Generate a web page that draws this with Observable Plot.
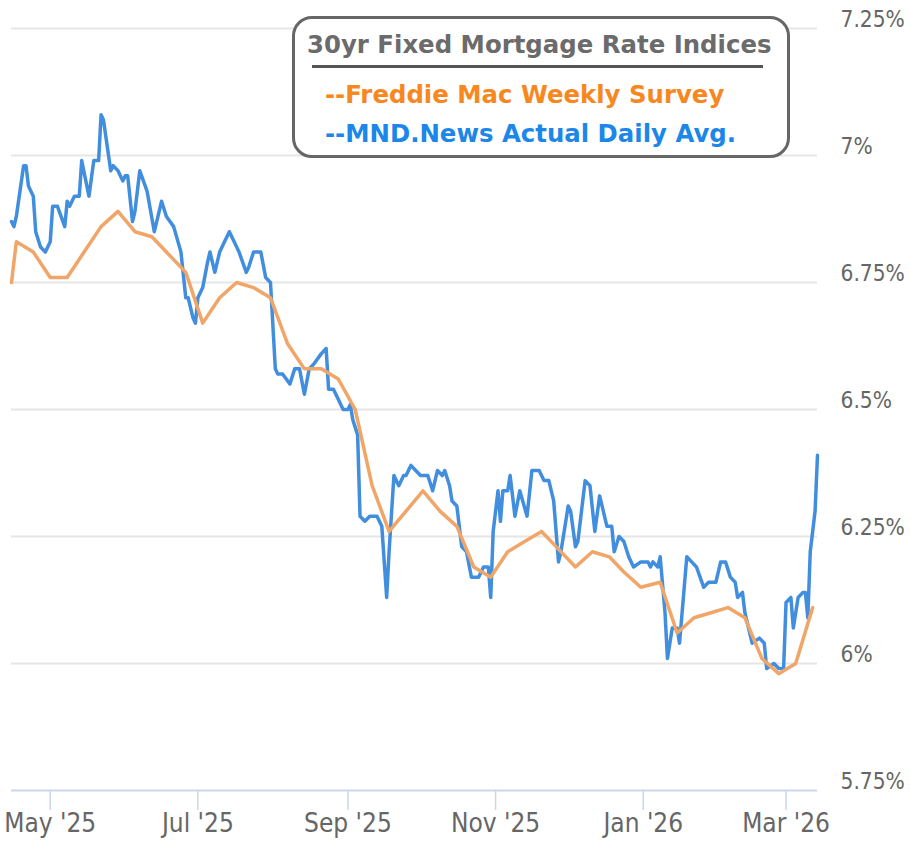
<!DOCTYPE html>
<html>
<head>
<meta charset="utf-8">
<script src="https://cdn.jsdelivr.net/npm/d3@7"></script>
<script src="https://cdn.jsdelivr.net/npm/@observablehq/plot@0.6"></script>
<style>
  html, body { margin: 0; padding: 0; background: #fff; }
  #wrap { position: relative; width: 910px; height: 844px; overflow: hidden; }
  #legend { position: absolute; left: 292px; top: 16px; width: 498px; height: 142px; box-sizing: border-box;
    border: 3px solid #666; border-radius: 20px; background: #fff; }
  .lg { position: absolute; font-family: "DejaVu Sans", sans-serif; font-weight: bold; font-size: 24.4px;
    line-height: 24px; white-space: nowrap; }
  #lgTitle { left: 12px; top: 14px; color: #6b6b6b; }
  #lgRule { position: absolute; left: 17px; top: 46px; width: 451px; height: 2.5px; background: #555; }
  #lgFm { left: 30px; top: 64px; color: #f7871f; }
  #lgMnd { left: 30px; top: 103px; color: #1c87e8; }
</style>
</head>
<body>
<div id="wrap">
  <div id="chart"></div>
  <div id="legend">
    <div class="lg" id="lgTitle">30yr Fixed Mortgage Rate Indices</div>
    <div id="lgRule"></div>
    <div class="lg" id="lgFm">--Freddie Mac Weekly Survey</div>
    <div class="lg" id="lgMnd">--MND.News Actual Daily Avg.</div>
  </div>
</div>
<script>
// Freddie Mac weekly survey
const fmDates = ["2025-04-15","2025-04-17","2025-04-24","2025-05-01","2025-05-08","2025-05-15","2025-05-22","2025-05-29",
  "2025-06-05","2025-06-12","2025-06-18","2025-06-26","2025-07-03","2025-07-10","2025-07-17","2025-07-24","2025-07-31",
  "2025-08-07","2025-08-14","2025-08-21","2025-08-28","2025-09-04","2025-09-11","2025-09-18","2025-09-25",
  "2025-10-02","2025-10-09","2025-10-16","2025-10-23","2025-10-30","2025-11-06","2025-11-13","2025-11-20","2025-11-26",
  "2025-12-04","2025-12-11","2025-12-18","2025-12-24","2025-12-31","2026-01-08","2026-01-15","2026-01-22","2026-01-29",
  "2026-02-05","2026-02-12","2026-02-19","2026-02-26","2026-03-05","2026-03-12"];
const fmRates = [6.75,6.83,6.81,6.76,6.76,6.81,6.86,6.89,
  6.85,6.84,6.81,6.77,6.67,6.72,6.75,6.74,6.72,
  6.63,6.58,6.58,6.56,6.50,6.35,6.26,6.30,
  6.34,6.30,6.27,6.19,6.17,6.22,6.24,6.26,6.23,
  6.19,6.22,6.21,6.18,6.15,6.16,6.06,6.09,6.10,
  6.11,6.09,6.01,5.98,6.00,6.11];

// MND daily index
const mndDates = ["2025-04-15","2025-04-16","2025-04-17","2025-04-20","2025-04-21","2025-04-22","2025-04-24","2025-04-25",
  "2025-04-27","2025-04-29","2025-05-01","2025-05-02","2025-05-04","2025-05-07","2025-05-08","2025-05-09","2025-05-11",
  "2025-05-13","2025-05-14","2025-05-17","2025-05-19","2025-05-21","2025-05-22","2025-05-23","2025-05-26","2025-05-27",
  "2025-05-29","2025-05-31","2025-06-01","2025-06-02","2025-06-04","2025-06-05","2025-06-07","2025-06-10","2025-06-13",
  "2025-06-16","2025-06-18","2025-06-21","2025-06-24","2025-06-26","2025-06-27","2025-06-29","2025-06-30","2025-07-01",
  "2025-07-03","2025-07-05","2025-07-06","2025-07-08","2025-07-10","2025-07-12","2025-07-14","2025-07-16","2025-07-18",
  "2025-07-21","2025-07-22","2025-07-24","2025-07-27","2025-07-29","2025-07-31","2025-08-02","2025-08-03","2025-08-05",
  "2025-08-08","2025-08-10","2025-08-12","2025-08-14","2025-08-16","2025-08-18","2025-08-21","2025-08-23","2025-08-24",
  "2025-08-26","2025-08-28","2025-08-30","2025-09-01","2025-09-02","2025-09-03","2025-09-05","2025-09-06","2025-09-08",
  "2025-09-10","2025-09-12","2025-09-13","2025-09-15","2025-09-17","2025-09-18","2025-09-20","2025-09-22","2025-09-24",
  "2025-09-25","2025-09-27","2025-09-29","2025-10-01","2025-10-04","2025-10-06","2025-10-08","2025-10-10","2025-10-11",
  "2025-10-13","2025-10-14","2025-10-16","2025-10-18","2025-10-20","2025-10-22","2025-10-25","2025-10-27","2025-10-29",
  "2025-10-30","2025-10-31","2025-11-02","2025-11-03","2025-11-04","2025-11-06","2025-11-07","2025-11-09","2025-11-11",
  "2025-11-14","2025-11-16","2025-11-19","2025-11-21","2025-11-23","2025-11-25","2025-11-27","2025-11-28","2025-12-01",
  "2025-12-02","2025-12-04","2025-12-05","2025-12-08","2025-12-10","2025-12-12","2025-12-14","2025-12-17","2025-12-19",
  "2025-12-20","2025-12-22","2025-12-24","2025-12-26","2025-12-28","2025-12-31","2026-01-03","2026-01-04","2026-01-05",
  "2026-01-07","2026-01-08","2026-01-10","2026-01-11","2026-01-13","2026-01-15","2026-01-16","2026-01-19","2026-01-21",
  "2026-01-23","2026-01-26","2026-01-28","2026-01-31","2026-02-02","2026-02-04","2026-02-06","2026-02-08","2026-02-09",
  "2026-02-11","2026-02-12","2026-02-14","2026-02-15","2026-02-18","2026-02-20","2026-02-21","2026-02-24","2026-02-26",
  "2026-02-28","2026-03-01","2026-03-03","2026-03-04","2026-03-06","2026-03-08","2026-03-09","2026-03-10","2026-03-11",
  "2026-03-12","2026-03-13","2026-03-14"];
const mndRates = [6.87,6.86,6.88,6.98,6.98,6.94,6.92,6.85,
  6.82,6.81,6.83,6.90,6.90,6.86,6.91,6.90,6.92,
  6.92,6.99,6.92,6.99,6.99,7.08,7.07,6.97,6.98,
  6.97,6.95,6.96,6.96,6.87,6.89,6.97,6.93,6.85,
  6.91,6.88,6.86,6.81,6.72,6.72,6.68,6.67,6.72,
  6.74,6.79,6.81,6.77,6.81,6.83,6.85,6.83,6.81,
  6.77,6.78,6.81,6.81,6.76,6.75,6.58,6.57,6.57,
  6.55,6.58,6.58,6.53,6.58,6.59,6.61,6.62,6.54,
  6.54,6.52,6.50,6.50,6.51,6.48,6.45,6.29,6.28,
  6.29,6.29,6.29,6.27,6.13,6.22,6.37,6.35,6.37,
  6.37,6.39,6.38,6.37,6.37,6.34,6.38,6.37,6.38,
  6.35,6.32,6.31,6.23,6.22,6.17,6.17,6.19,6.19,
  6.13,6.26,6.34,6.28,6.34,6.34,6.37,6.29,6.34,
  6.29,6.38,6.38,6.36,6.36,6.32,6.20,6.22,6.31,
  6.30,6.23,6.24,6.36,6.35,6.26,6.33,6.27,6.27,
  6.22,6.25,6.24,6.21,6.19,6.20,6.20,6.19,6.20,
  6.19,6.21,6.10,6.01,6.07,6.07,6.04,6.21,6.20,
  6.19,6.15,6.16,6.16,6.20,6.20,6.17,6.16,6.13,
  6.14,6.10,6.06,6.04,6.05,6.04,5.99,6.00,5.99,
  5.99,6.12,6.13,6.07,6.13,6.14,6.14,6.09,6.22,
  6.26,6.30,6.41];

const yTicks = [5.75, 6, 6.25, 6.5, 6.75, 7, 7.25];
const yTickLabels = ["5.75%", "6%", "6.25%", "6.5%", "6.75%", "7%", "7.25%"];
const xTicks = ["2025-05-01", "2025-07-01", "2025-09-01", "2025-11-01", "2026-01-01", "2026-03-01"];
const xTickLabels = ["May '25", "Jul '25", "Sep '25", "Nov '25", "Jan '26", "Mar '26"];
const xDomain = ["2025-04-15", "2026-03-14"];

const parse = d3.utcParse("%Y-%m-%d");
const fm = fmDates.map((d, i) => ({date: parse(d), rate: fmRates[i]}));
const mnd = mndDates.map((d, i) => ({date: parse(d), rate: mndRates[i]}));
const xTickDates = xTicks.map(parse);
const xLabelMap = new Map(xTickDates.map((d, i) => [+d, xTickLabels[i]]));
const yLabelMap = new Map(yTicks.map((v, i) => [v, yTickLabels[i]]));

const axisFont = "'Liberation Sans Narrow', 'DejaVu Sans Condensed', 'Arial Narrow', sans-serif";

const chart = Plot.plot({
  width: 910,
  height: 844,
  marginLeft: 11,
  marginRight: 93,
  marginTop: 28,
  marginBottom: 54,
  style: {background: "#fff", fontFamily: axisFont, overflow: "visible"},
  x: {type: "utc", domain: xDomain.map(parse), label: null},
  y: {domain: [5.75, 7.25], label: null},
  marks: [
    Plot.gridY(yTicks.filter(v => v > 5.75), {stroke: "#e6e6e6", strokeOpacity: 1, strokeWidth: 2}),
    Plot.ruleY([5.75], {stroke: "#ccd6eb", strokeWidth: 2}),
    Plot.axisX(xTickDates, {tickSize: 20, tickPadding: 3, stroke: "#ccd6eb", strokeWidth: 1.5, label: null,
      tickFormat: d => xLabelMap.get(+d), fontSize: 26, fill: "#666", fontFamily: axisFont}),
    Plot.axisY(yTicks, {anchor: "right", tickSize: 0, tickPadding: 23, dy: -9, label: null,
      tickFormat: v => yLabelMap.get(v), fontSize: 22.5, fill: "#666", textAnchor: "start", fontFamily: axisFont}),
    Plot.line(mnd, {x: "date", y: "rate", stroke: "#428ede", strokeWidth: 3.5}),
    Plot.line(fm, {x: "date", y: "rate", stroke: "#f0a569", strokeWidth: 3.5})
  ]
});
document.getElementById("chart").appendChild(chart);
</script>
</body>
</html>
